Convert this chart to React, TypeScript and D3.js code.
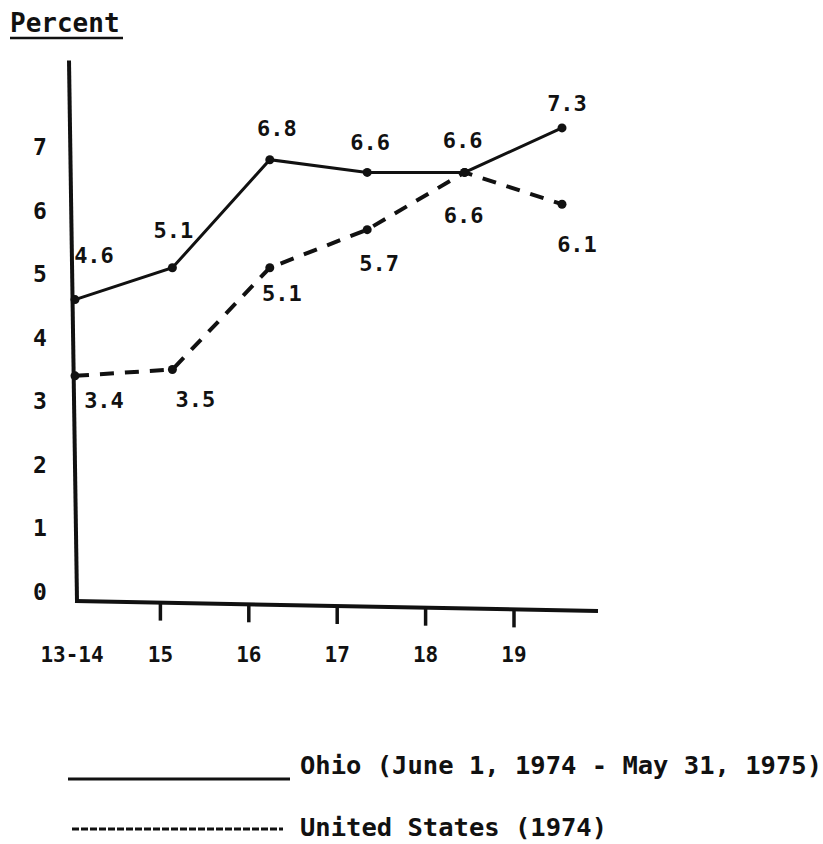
import { useEffect, useRef } from "react"
import * as d3 from "d3"

// age groups on the x axis
const ageGroups = ["13-14", "15", "16", "17", "18", "19"]
// percent values
const ohioValues = [4.6, 5.1, 6.8, 6.6, 6.6, 7.3]
const usValues = [3.4, 3.5, 5.1, 5.7, 6.6, 6.1]
const yTicks = [0, 1, 2, 3, 4, 5, 6, 7]
const seriesNames = ["Ohio (June 1, 1974 - May 31, 1975)", "United States (1974)"]

const FONT = "'DejaVu Sans Mono', monospace"

export default function App() {
  const svgRef = useRef<SVGSVGElement>(null)

  useEffect(() => {
    if (!svgRef.current) return
    const svg = d3.select(svgRef.current)
    svg.selectAll("*").remove()

    const width = 823
    const height = 844

    svg.attr("width", width).attr("height", height)

    // scales
    const y = d3.scaleLinear().domain([0, 7]).range([592, 147])
    const xAxis = d3.scalePoint<string>().domain(ageGroups).range([72, 514])
    const xPts = d3.scalePoint<string>().domain(ageGroups).range([75, 562])

    const ink = "#111"

    // title
    svg
      .append("text")
      .attr("x", 10)
      .attr("y", 32)
      .attr("font-family", FONT)
      .attr("font-weight", "bold")
      .attr("font-size", 26)
      .attr("fill", ink)
      .text("Percent")
    svg
      .append("line")
      .attr("x1", 10)
      .attr("x2", 123)
      .attr("y1", 38)
      .attr("y2", 38)
      .attr("stroke", ink)
      .attr("stroke-width", 2.5)

    // y axis line (slightly skewed as in the scan)
    const axisBase = y(0) + 9
    svg
      .append("line")
      .attr("x1", 69)
      .attr("y1", y(8.36))
      .attr("x2", 77)
      .attr("y2", axisBase)
      .attr("stroke", ink)
      .attr("stroke-width", 4)

    // y tick labels
    svg
      .append("g")
      .selectAll("text")
      .data(yTicks)
      .join("text")
      .attr("x", 40)
      .attr("y", (d) => y(d))
      .attr("text-anchor", "middle")
      .attr("dominant-baseline", "central")
      .attr("font-family", FONT)
      .attr("font-weight", "bold")
      .attr("font-size", 23)
      .attr("fill", ink)
      .text((d) => d)

    // x axis line, slight tilt
    const xEnd = 598
    const tilt = (xv: number) => axisBase + ((xv - 77) * 10) / (xEnd - 77)
    svg
      .append("line")
      .attr("x1", 75)
      .attr("y1", axisBase)
      .attr("x2", xEnd)
      .attr("y2", tilt(xEnd))
      .attr("stroke", ink)
      .attr("stroke-width", 4)

    // x ticks
    svg
      .append("g")
      .selectAll("line")
      .data(ageGroups.slice(1))
      .join("line")
      .attr("x1", (d) => xAxis(d)!)
      .attr("x2", (d) => xAxis(d)!)
      .attr("y1", (d) => tilt(xAxis(d)!))
      .attr("y2", (d) => tilt(xAxis(d)!) + 18)
      .attr("stroke", ink)
      .attr("stroke-width", 3.5)

    // x labels
    svg
      .append("g")
      .selectAll("text")
      .data(ageGroups)
      .join("text")
      .attr("x", (d) => xAxis(d)!)
      .attr("y", 655)
      .attr("text-anchor", "middle")
      .attr("dominant-baseline", "central")
      .attr("font-family", FONT)
      .attr("font-weight", "bold")
      .attr("font-size", 21)
      .attr("fill", ink)
      .text((d) => d)

    const line = d3
      .line<number>()
      .x((_, i) => xPts(ageGroups[i])!)
      .y((d) => y(d))

    // Ohio (solid)
    svg
      .append("path")
      .datum(ohioValues)
      .attr("d", line)
      .attr("fill", "none")
      .attr("stroke", ink)
      .attr("stroke-width", 3)

    // United States (dashed)
    svg
      .append("path")
      .datum(usValues)
      .attr("d", line)
      .attr("fill", "none")
      .attr("stroke", ink)
      .attr("stroke-width", 4)
      .attr("stroke-dasharray", "14 11")

    const dots = (vals: number[], r: number) =>
      svg
        .append("g")
        .selectAll("circle")
        .data(vals)
        .join("circle")
        .attr("cx", (_, i) => xPts(ageGroups[i])!)
        .attr("cy", (d) => y(d))
        .attr("r", r)
        .attr("fill", ink)
    dots(ohioValues, 4.5)
    dots(usValues, 4.5)

    // value labels: Ohio above, US below
    const ohioOffsets = [
      [19, -44],
      [1, -37],
      [7, -31],
      [3, -30],
      [-2, -32],
      [5, -24],
    ]
    const usOffsets = [
      [29, 25],
      [23, 30],
      [12, 26],
      [12, 34],
      [-1, 43],
      [15, 40],
    ]
    const valueLabels = (vals: number[], offs: number[][]) =>
      svg
        .append("g")
        .selectAll("text")
        .data(vals)
        .join("text")
        .attr("x", (_, i) => xPts(ageGroups[i])! + offs[i][0])
        .attr("y", (d, i) => y(d) + offs[i][1])
        .attr("text-anchor", "middle")
        .attr("dominant-baseline", "central")
        .attr("font-family", FONT)
        .attr("font-weight", "bold")
        .attr("font-size", 22)
        .attr("fill", ink)
        .text((d) => d.toFixed(1))
    valueLabels(ohioValues, ohioOffsets)
    valueLabels(usValues, usOffsets)

    // legend
    const legend = svg.append("g")
    legend
      .append("line")
      .attr("x1", 68)
      .attr("x2", 290)
      .attr("y1", 779)
      .attr("y2", 779)
      .attr("stroke", ink)
      .attr("stroke-width", 3)
    legend
      .append("line")
      .attr("x1", 72)
      .attr("x2", 283)
      .attr("y1", 829)
      .attr("y2", 829)
      .attr("stroke", ink)
      .attr("stroke-width", 3)
      .attr("stroke-dasharray", "7 2")
    legend
      .selectAll("text")
      .data(seriesNames)
      .join("text")
      .attr("x", 300)
      .attr("y", (_, i) => (i === 0 ? 765 : 827))
      .attr("dominant-baseline", "central")
      .attr("font-family", FONT)
      .attr("font-weight", "bold")
      .attr("font-size", 25.5)
      .attr("fill", ink)
      .text((d) => d)
  }, [])

  return (
    <svg
      ref={svgRef}
      style={{ position: "absolute", left: 0, top: 0, background: "#fff" }}
    ></svg>
  )
}
